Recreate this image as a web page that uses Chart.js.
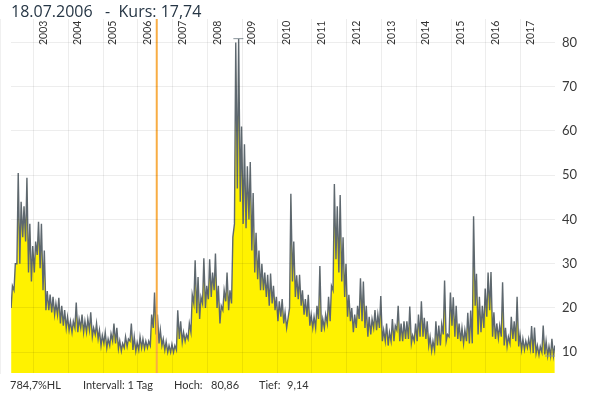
<!DOCTYPE html>
<html>
<head>
<meta charset="utf-8">
<script src="https://cdn.jsdelivr.net/npm/chart.js@4.4.1/dist/chart.umd.min.js"></script>
<style>
  body { margin: 0; background: #fff; font-family: Lato, sans-serif; }
  #wrap { position: relative; width: 596px; height: 396px; }
  #title { position: absolute; left: 11px; top: 0px; font-family: "Open Sans", sans-serif; font-size: 16px; color: #263645; white-space: pre; }
  .foot { position: absolute; top: 378px; font-size: 11px; color: #333; white-space: pre; }
</style>
</head>
<body>
<div id="wrap">
  <canvas id="chart" width="596" height="396"></canvas>
  <div id="title">18.07.2006   -  Kurs: 17,74</div>
  <span class="foot" style="left:10px">784,7%HL</span>
  <span class="foot" style="left:83px">Intervall: 1 Tag</span>
  <span class="foot" style="left:174px">Hoch:</span>
  <span class="foot" style="left:211px">80,86</span>
  <span class="foot" style="left:259px">Tief:</span>
  <span class="foot" style="left:287px">9,14</span>
</div>
<script>
// Monthly high / low of the daily closes, May 2002 .. Dec 2017
const firstMonth = 2002 + 4 / 12;
const vixHigh = [
  25, 30, 50.5, 44, 43, 49.4, 39, 34,                                  // 2002
  35, 39.5, 39, 33, 23.8, 23, 22.5, 21, 22.3, 20.5, 19.5, 18,          // 2003
  17, 17, 21.2, 17.5, 18.5, 17, 17.5, 19, 15.5, 16.5, 15, 13.8,        // 2004
  14.5, 13, 14.2, 16.5, 15.5, 12.6, 12, 13.5, 13, 16.5, 13.5, 12.2,    // 2005
  13.5, 13, 12.5, 12.5, 18.5, 23.5, 18.5, 15, 13, 12.4, 11.5, 11.8,    // 2006
  11.5, 19.5, 17, 14.5, 14, 16.5, 23, 30.8, 27, 22.5, 31.2, 25,        // 2007
  31, 28, 32.3, 25, 20.5, 24, 28, 24, 36, 80, 80.86, 61,               // 2008
  57, 52, 53, 46, 37, 33, 30, 28, 27.5, 27.8, 25, 22.5,                // 2009
  21.5, 22, 19, 17.5, 45.8, 35, 27.4, 27.5, 24, 22, 23, 18.5,          // 2010
  18, 20.5, 29.5, 17.5, 18.5, 22.5, 25, 48, 43, 45.5, 36, 30,          // 2011
  23, 20, 18.5, 20.5, 26.7, 26, 20.5, 18, 17.5, 19.5, 18.5, 22.7,      // 2012
  15, 16.5, 14.5, 17.5, 16, 20.5, 16.5, 17, 17, 20.3, 13.8, 16.5,      // 2013
  18.5, 21.5, 17.8, 17, 13.5, 12.5, 17, 16, 16.3, 26.2, 14, 23.5,      // 2014
  22.4, 20.5, 16.5, 15.5, 15, 18.9, 19.4, 40.74, 27.7, 22.5, 20.5, 24.4, // 2015
  28, 28.1, 19, 16.5, 16, 25.8, 15.5, 13.5, 18, 17, 22.5, 14,          // 2016
  13, 12.5, 13, 15.9, 15.6, 11.5, 11.3, 16, 12.5, 11.3, 13, 11.5       // 2017
];
const vixLow = [
  20, 24, 30, 30, 36, 35, 28, 26,                                      // 2002
  28, 32, 29, 24, 19.5, 19.5, 19, 18.5, 18.5, 16.5, 16, 15.5,          // 2003
  15, 14.5, 15.5, 14.5, 15.5, 14.5, 14.5, 15, 13.5, 14, 13, 11.5,      // 2004
  12, 11, 11.5, 12.5, 12, 10.8, 10.3, 11, 11.3, 12.5, 10.5, 10.3,      // 2005
  10.5, 11, 10.8, 11, 11.5, 15.5, 14, 12, 11.5, 10.5, 10, 10,          // 2006
  10, 10.5, 13, 12.3, 12.5, 13, 14.5, 21, 18.8, 17.5, 21, 20,          // 2007
  22, 22.5, 24, 20, 16.5, 19.5, 21.5, 19.5, 21, 39, 47, 44,            // 2008
  39, 38, 40, 33, 28, 26.5, 24, 24, 22.5, 20.5, 21, 19.5,              // 2009
  17, 18, 16.5, 15.5, 20, 26, 22.5, 22, 20.5, 18.5, 18, 16,            // 2010
  15.5, 15.5, 17.5, 14.6, 15.5, 16.5, 17, 24, 31, 28, 26, 22.5,        // 2011
  18, 17, 14.5, 15.5, 17.5, 17, 15.5, 13.5, 14, 15.5, 15, 15.5,        // 2012
  12.5, 12.5, 11.5, 12.5, 12.5, 15, 12.5, 12.5, 13, 13, 12, 12.5,      // 2013
  12.5, 13.5, 13.5, 13, 11.5, 10.3, 10.5, 11.5, 11.5, 14, 12.5, 13.5,  // 2014
  16, 13.5, 13, 12.5, 12, 12.5, 12, 12, 20.5, 14, 14.5, 15.5,          // 2015
  18, 19.5, 13.5, 13, 13.2, 13.5, 11.5, 11.3, 12, 13, 12.5, 11.3,      // 2016
  10.6, 10.6, 11, 10.8, 9.8, 9.8, 9.4, 10, 9.5, 9.2, 9.14, 9.2         // 2017
];
const yearLabels = [2003, 2004, 2005, 2006, 2007, 2008, 2009, 2010, 2011, 2012, 2013, 2014, 2015, 2016, 2017];
const yTicks = [10, 20, 30, 40, 50, 60, 70, 80];
const extremes = [{ x: 2008 + 324 / 365, y: 80.86 }, { x: 2017 + 306 / 365, y: 9.14 }];
const markerDate = 2006 + 198 / 365; // 18.07.2006

// interleave low / high per month into one line
const series = [];
vixLow.forEach((lo, i) => {
  const t = firstMonth + i / 12;
  series.push({ x: t + 0.3 / 12, y: lo });
  series.push({ x: t + 0.75 / 12, y: vixHigh[i] });
});

const overlay = {
  id: 'overlay',
  afterDatasetsDraw(chart) {
    const { ctx, chartArea, scales: { x } } = chart;
    ctx.save();
    const px = x.getPixelForValue(markerDate);
    ctx.strokeStyle = '#f8ad44';
    ctx.lineWidth = 2;
    ctx.beginPath();
    ctx.moveTo(px, chartArea.top);
    ctx.lineTo(px, chartArea.bottom);
    ctx.stroke();

    ctx.fillStyle = '#333';
    ctx.font = '10.5px Lato';
    yearLabels.forEach(yr => {
      const gx = x.getPixelForValue(yr);
      ctx.save();
      ctx.translate(gx + 4.5, chartArea.top + 26);
      ctx.rotate(-Math.PI / 2);
      ctx.textAlign = 'left';
      ctx.textBaseline = 'top';
      ctx.fillText(String(yr), 0, 0);
      ctx.restore();
    });
    ctx.restore();
  }
};

new Chart(document.getElementById('chart'), {
  type: 'line',
  data: {
    datasets: [
      {
        type: 'scatter',
        data: extremes,
        pointStyle: 'line',
        pointRadius: 5,
        borderColor: '#8a949a',
        borderWidth: 1,
        showLine: false,
        order: 0,
      },
      {
        data: series,
        borderColor: '#5e686f',
        borderWidth: 1.4,
        backgroundColor: '#fff200',
        fill: 'start',
        pointRadius: 0,
        tension: 0,
        order: 1,
      },
    ],
  },
  options: {
    responsive: false,
    animation: false,
    layout: { padding: { left: 11, top: 19, right: 0, bottom: 23 } },
    plugins: { legend: { display: false }, tooltip: { enabled: false } },
    scales: {
      x: {
        type: 'linear',
        min: 2002.355,
        max: 2017.985,
        afterFit: s => { s.height = 0; },
        ticks: { display: false, stepSize: 1, includeBounds: false },
        grid: { color: 'rgba(0,0,0,0.07)', drawTicks: false, z: 1 },
        border: { display: false },
      },
      y: {
        position: 'right',
        min: 5.3,
        max: 85.3,
        afterFit: s => { s.width = 41; },
        afterBuildTicks: s => { s.ticks = yTicks.map(v => ({ value: v })); },
        ticks: { padding: 7, color: '#3a3a3a', font: { family: 'Lato', size: 13 } },
        grid: { color: 'rgba(0,0,0,0.07)', drawTicks: false, z: 1 },
        border: { display: true, color: '#e2e2e2' },
      },
    },
  },
  plugins: [overlay],
});
</script>
</body>
</html>
